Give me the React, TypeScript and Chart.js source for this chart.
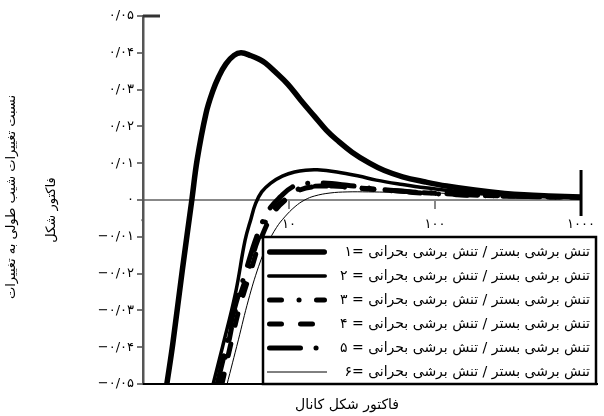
import { useEffect, useRef } from "react";
import { Chart, registerables } from "chart.js";

Chart.register(...registerables);

const FA = "'DejaVu Sans', sans-serif";

// Axis ticks
const xTickValues = [1, 10, 100, 1000];
const yTickValues = [0.05, 0.04, 0.03, 0.02, 0.01, 0, -0.01, -0.02, -0.03, -0.04, -0.05];

// Series 1 (ratio = 1)
const series1X = [1.45, 1.6, 1.86, 2.16, 2.35, 2.7, 3.0, 3.3, 3.7, 4.2, 4.7, 5.5, 6.2, 6.9, 8.2, 9.8, 12, 14.9, 18, 21.3, 27, 35.6, 45, 60, 86, 120, 187, 300, 407, 600, 1000];
const series1Y = [-0.0505, -0.039, -0.019, 0.0, 0.011, 0.0235, 0.0295, 0.0335, 0.037, 0.0393, 0.04, 0.0392, 0.0383, 0.0372, 0.0345, 0.0315, 0.0272, 0.0228, 0.019, 0.0163, 0.013, 0.01, 0.008, 0.0063, 0.0049, 0.0038, 0.0027, 0.0018, 0.0014, 0.0011, 0.0008];

// Series 2 (ratio = 2)
const series2X = [3.0, 3.5, 4.3, 5.0, 5.5, 5.9, 6.5, 7.5, 9, 10.9, 13, 15.6, 21.3, 30, 39.6, 60, 86, 130, 187, 300, 500, 1000];
const series2Y = [-0.0505, -0.04, -0.0253, -0.011, -0.005, -0.001, 0.0022, 0.0046, 0.0065, 0.0076, 0.0081, 0.0082, 0.0076, 0.0065, 0.0054, 0.0042, 0.0033, 0.0025, 0.0019, 0.0014, 0.0011, 0.0008];

// Series 3 (ratio = 3)
const series3X = [3.3, 3.8, 4.3, 5.2, 6.1, 7.5, 9.3, 11, 13, 17, 22, 30, 50, 100, 200, 500, 1000];
const series3Y = [-0.0505, -0.04, -0.03, -0.02, -0.011, -0.0035, 0.0, 0.0025, 0.0035, 0.0038, 0.0036, 0.0032, 0.0025, 0.0017, 0.0012, 0.0009, 0.0007];

// Series 4 (ratio = 4)
const series4X = [3.45, 4.0, 4.6, 5.5, 6.5, 8, 10, 12, 15, 20, 30, 50, 100, 200, 500, 1000];
const series4Y = [-0.0505, -0.039, -0.029, -0.019, -0.01, -0.003, 0.0008, 0.0028, 0.0036, 0.0038, 0.0033, 0.0026, 0.0018, 0.0013, 0.0009, 0.0007];

// Series 5 (ratio = 5)
const series5X = [3.2, 3.7, 4.2, 5.0, 6.0, 7.2, 8.8, 10.5, 13, 17, 25, 40, 70, 100, 200, 500, 1000];
const series5Y = [-0.0505, -0.04, -0.03, -0.02, -0.01, -0.003, 0.001, 0.0035, 0.0045, 0.0046, 0.004, 0.003, 0.0022, 0.0019, 0.0013, 0.0009, 0.0007];

// Series 6 (ratio = 6)
const series6X = [3.74, 4.5, 5.27, 6.2, 7.18, 8.2, 9.35, 11, 12.8, 15, 19.1, 25, 35, 50, 100, 200, 400, 1000];
const series6Y = [-0.0505, -0.038, -0.0272, -0.018, -0.0117, -0.0075, -0.0046, -0.0018, 0.0, 0.0011, 0.0019, 0.0022, 0.0022, 0.0021, 0.0019, 0.0014, 0.0009, 0.0005];

const legendLabels = [
  "تنش برشی بستر / تنش برشی بحرانی =۱",
  "تنش برشی بستر / تنش برشی بحرانی = ۲",
  "تنش برشی بستر / تنش برشی بحرانی = ۳",
  "تنش برشی بستر / تنش برشی بحرانی = ۴",
  "تنش برشی بستر / تنش برشی بحرانی = ۵",
  "تنش برشی بستر / تنش برشی بحرانی =۶",
];

const yTitleLines = ["نسبت تغییرات شیب طولی به تغییرات", "فاکتور شکل"];
const xTitle = "فاکتور شکل کانال";

const FA_DIGITS = "۰۱۲۳۴۵۶۷۸۹";
function toFa(s: string): string {
  return s.replace(/[0-9]/g, (d) => FA_DIGITS[+d]);
}
function fmtY(v: number): string {
  if (Math.abs(v) < 1e-9) return "۰";
  const s = Math.abs(v).toFixed(2).replace(".", "/");
  return (v < 0 ? "−" : "") + toFa(s);
}

const styles = [
  { width: 5.5, dash: [] as number[] },
  { width: 3.5, dash: [] as number[] },
  { width: 5, dash: [12, 17.5, 0.1, 17.4] },
  { width: 5, dash: [12, 19] },
  { width: 5, dash: [31, 15.5, 0.1, 15.5] },
  { width: 1, dash: [] as number[] },
];

const xs = [series1X, series2X, series3X, series4X, series5X, series6X];
const ys = [series1Y, series2Y, series3Y, series4Y, series5Y, series6Y];

const decorPlugin = {
  id: "decor",
  afterDraw(chart: any) {
    const ctx = chart.ctx as CanvasRenderingContext2D;
    const area = chart.chartArea;
    ctx.save();
    // frame accents
    ctx.strokeStyle = "#000";
    ctx.lineWidth = 2;
    ctx.beginPath();
    ctx.moveTo(area.left, area.bottom);
    ctx.lineTo(598, area.bottom);
    ctx.stroke();
    ctx.strokeStyle = "#333";
    ctx.lineWidth = 3;
    ctx.beginPath();
    ctx.moveTo(area.left, area.top);
    ctx.lineTo(area.left + 17, area.top);
    ctx.stroke();
    ctx.strokeStyle = "#000";
    ctx.beginPath();
    ctx.moveTo(area.right, 170);
    ctx.lineTo(area.right, 216);
    ctx.stroke();

    // y title
    ctx.fillStyle = "#000";
    ctx.font = `13px ${FA}`;
    ctx.textAlign = "center";
    ctx.textBaseline = "middle";
    (ctx as any).direction = "rtl";
    const yPositions = [[12, 197], [52, 210]];
    yTitleLines.forEach((t, i) => {
      ctx.save();
      ctx.translate(yPositions[i][0], yPositions[i][1]);
      ctx.rotate(-Math.PI / 2);
      ctx.fillText(t, 0, 0);
      ctx.restore();
    });
    // x title
    ctx.font = `14px ${FA}`;
    ctx.fillText(xTitle, 347, 405);

    // legend
    const lx = 263, ly = 237, lw = 333, lh = 147;
    ctx.fillStyle = "#fff";
    ctx.fillRect(lx, ly, lw, lh);
    ctx.strokeStyle = "#000";
    ctx.lineWidth = 2.5;
    ctx.strokeRect(lx, ly, lw, lh);
    legendLabels.forEach((label, i) => {
      const cy = 252 + i * 24;
      const st = styles[i];
      ctx.save();
      ctx.strokeStyle = "#000";
      ctx.lineWidth = st.width;
      ctx.lineCap = st.width > 2 ? "round" : "butt";
      ctx.setLineDash(st.dash);
      const r = st.width > 2 ? st.width / 2 : 0;
      ctx.beginPath();
      ctx.moveTo(267 + r, cy);
      ctx.lineTo(327 - r, cy);
      ctx.stroke();
      ctx.restore();
      ctx.fillStyle = "#000";
      ctx.font = `14px ${FA}`;
      (ctx as any).direction = "rtl";
      ctx.textAlign = "right";
      ctx.textBaseline = "middle";
      ctx.fillText(label, 590, cy);
    });
    ctx.restore();
  },
};

export default function App() {
  const ref = useRef<HTMLCanvasElement | null>(null);
  useEffect(() => {
    if (!ref.current) return;
    const chart = new Chart(ref.current, {
      type: "line",
      data: {
        datasets: xs.map((xArr, si) => ({
          data: xArr.map((x, i) => ({ x, y: ys[si][i] })),
          borderColor: "#000",
          borderWidth: styles[si].width,
          borderDash: styles[si].dash,
          borderCapStyle: styles[si].width > 2 ? "round" : "butt",
          borderJoinStyle: "round",
          pointRadius: 0,
          fill: false,
          tension: 0.4,
        })) as any,
      },
      options: {
        animation: false,
        responsive: false,
        layout: { padding: { top: 16, bottom: 32, right: 16, left: 0 } },
        plugins: { legend: { display: false }, tooltip: { enabled: false } },
        scales: {
          x: {
            type: "logarithmic",
            min: 1,
            max: 1000,
            position: { y: 0 } as any,
            afterBuildTicks: (s: any) => {
              s.ticks = xTickValues.map((v) => ({ value: v }));
            },
            afterFit: (s: any) => {
              s.height = 0;
            },
            ticks: {
              callback: (v: any) => toFa(String(v)),
              font: { family: FA, size: 13 },
              color: "#000",
              maxRotation: 0,
              autoSkip: false,
              padding: 9,
            },
            grid: { drawOnChartArea: false, drawTicks: true, tickLength: 8, color: "#888", lineWidth: 2 },
            border: { color: "#888", width: 2 },
          },
          y: {
            type: "linear",
            min: -0.05,
            max: 0.05,
            afterBuildTicks: (s: any) => {
              s.ticks = yTickValues.map((v) => ({ value: v }));
            },
            afterFit: (s: any) => {
              s.width = 143;
            },
            ticks: {
              callback: (v: any) => fmtY(Number(v)),
              font: { family: FA, size: 13 },
              color: "#000",
              padding: 3,
            },
            grid: { drawOnChartArea: false, drawTicks: true, tickLength: 6, color: "#777", lineWidth: 2 },
            border: { color: "#555", width: 2.5 },
          },
        },
      },
      plugins: [decorPlugin],
    });
    return () => chart.destroy();
  }, []);
  return (
    <div style={{ position: "absolute", left: 0, top: 0, width: 604, height: 416, background: "#fff" }}>
      <canvas ref={ref} width={604} height={416} />
    </div>
  );
}
